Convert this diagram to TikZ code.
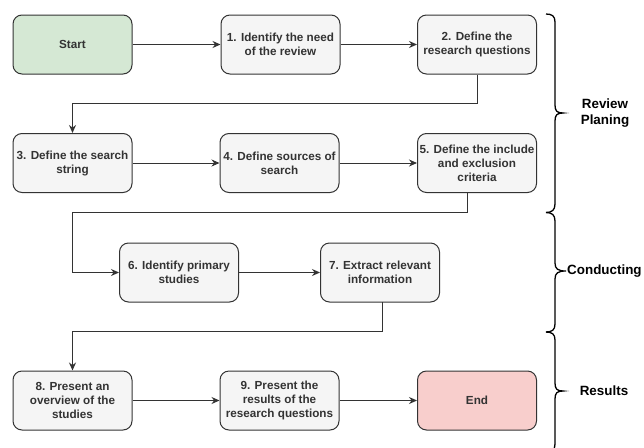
\documentclass[tikz,border=0pt]{standalone}
\usepackage{fontspec}
\setmainfont{Liberation Sans}
\usetikzlibrary{arrows.meta,calc}
\definecolor{boxfill}{HTML}{F5F5F5}
\definecolor{boxline}{HTML}{333333}
\definecolor{boxtext}{HTML}{333333}
\definecolor{startfill}{HTML}{D5E8D4}
\definecolor{endfill}{HTML}{F8CECC}
\tikzset{
  stepbox/.style={draw=boxline, fill=boxfill, line width=1pt, rounded corners=9pt,
    minimum width=119pt, minimum height=59pt, align=center, inner sep=1pt,
    text=boxtext, font=\fontsize{11.7}{14}\selectfont\bfseries},
  startbox/.style={stepbox, fill=startfill},
  endbox/.style={stepbox, fill=endfill},
  arr/.style={draw=boxline, line width=1pt, -{Stealth[length=8pt,width=7pt]}},
  bracepath/.style={draw=black, line width=1.3pt},
  phase/.style={font=\fontsize{13.4}{16}\selectfont\bfseries, text=black, align=center, inner sep=1pt}
}
\begin{document}
\begin{tikzpicture}[x=1pt,y=-1pt]
\useasboundingbox (0,0) rectangle (644,447);
% row 1
\node[startbox] (start) at (72.5,44.5) {Start};
\node[stepbox] (b1) at (280.5,44.5) {1. Identify the need\\of the review};
\node[stepbox] (b2) at (477,44.5) {2. Define the\\research questions};
% row 2
\node[stepbox] (b3) at (72.5,163) {3. Define the search\\string};
\node[stepbox] (b4) at (279.5,163) {4. Define sources of\\search};
\node[stepbox] (b5) at (477,163) {5. Define the include\\and exclusion\\criteria};
% row 3
\node[stepbox] (b6) at (179,272.5) {6. Identify primary\\studies};
\node[stepbox] (b7) at (380,272.5) {7. Extract relevant\\information};
% row 4
\node[stepbox] (b8) at (72.5,400.5) {8. Present an\\overview of the\\studies};
\node[stepbox] (b9) at (279.5,400.5) {9. Present the\\results of the\\research questions};
\node[endbox] (end) at (477,400.5) {End};
% bend points
\coordinate (k1) at (72.5,103);
\coordinate (k2a) at (467,193);
\coordinate (k2) at (72.5,212);
\coordinate (k3a) at (382,302);
\coordinate (k3) at (72.5,331);
% connectors
\draw[arr] (start) -- (b1);
\draw[arr] (b1) -- (b2);
\draw[arr] (b2.south) |- (k1) -- (b3.north);
\draw[arr] (b3) -- (b4);
\draw[arr] (b4) -- (b5);
\draw[arr] (k2a) |- (k2) |- (b6.west);
\draw[arr] (b6) -- (b7);
\draw[arr] (k3a) |- (k3) -- (b8.north);
\draw[arr] (b8) -- (b9);
\draw[arr] (b9) -- (end);
% braces
\draw[bracepath] (546,14) .. controls (552,14) and (555,16) .. (555,22) -- (555,105)
  .. controls (555,111) and (557,113) .. (563,113)
  .. controls (557,113) and (555,115) .. (555,121) -- (555,204)
  .. controls (555,210) and (552,212.5) .. (546,212.5);
\draw[bracepath] (546,212.5) .. controls (552,212.5) and (555,215) .. (555,221) -- (555,263)
  .. controls (555,269) and (558,271) .. (566,271)
  .. controls (558,271) and (555,273) .. (555,279) -- (555,324)
  .. controls (555,330) and (552,332) .. (546,332);
\draw[bracepath] (546,332) .. controls (552,332) and (555,334) .. (555,340) -- (555,383)
  .. controls (555,389) and (557,391) .. (563,391)
  .. controls (557,391) and (555,393) .. (555,399) -- (555,444)
  .. controls (555,450) and (552,452) .. (546,452);
% labels
\node[phase] (p1) at (605,113) {Review\\Planing};
\node[phase, anchor=west] (p2) at (566,271) {Conducting};
\node[phase] (p3) at (604,391) {Results};
\end{tikzpicture}
\end{document}
